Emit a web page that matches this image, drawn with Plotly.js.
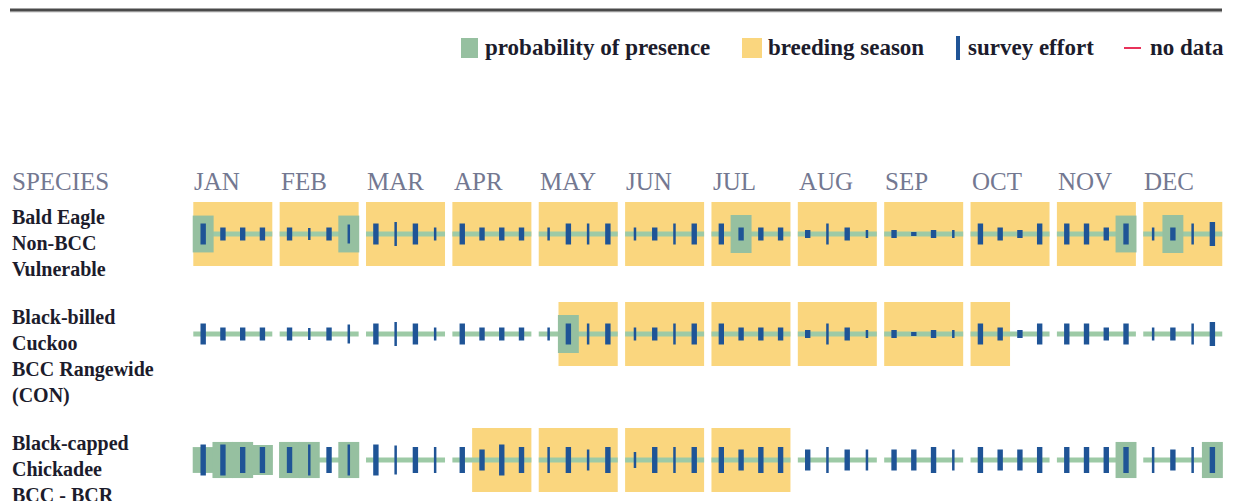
<!DOCTYPE html>
<html><head><meta charset="utf-8">
<script src="https://cdn.plot.ly/plotly-3.0.1.min.js"></script>
<style>html,body{margin:0;padding:0;background:#fff;overflow:hidden}#chart{width:1233px;height:501px}</style>
</head><body><div id="chart"></div>
<script>
// ---------------- DATA ----------------
const months = ['JAN','FEB','MAR','APR','MAY','JUN','JUL','AUG','SEP','OCT','NOV','DEC'];
const speciesHeader = 'SPECIES';
const speciesLabels = [
  ['Bald Eagle','Non-BCC','Vulnerable'],
  ['Black-billed','Cuckoo','BCC Rangewide','(CON)'],
  ['Black-capped','Chickadee','BCC - BCR']
];
const legendLabels = ['probability of presence','breeding season','survey effort','no data'];

// breeding season (1 = week in breeding season), 4 weeks per month
const breedingBaldEagle = [
  1,1,1,1, 1,1,1,1, 1,1,1,1, 1,1,1,1, 1,1,1,1, 1,1,1,1,
  1,1,1,1, 1,1,1,1, 1,1,1,1, 1,1,1,1, 1,1,1,1, 1,1,1,1];
const breedingCuckoo = [
  0,0,0,0, 0,0,0,0, 0,0,0,0, 0,0,0,0, 0,1,1,1, 1,1,1,1,
  1,1,1,1, 1,1,1,1, 1,1,1,1, 1,1,0,0, 0,0,0,0, 0,0,0,0];
const breedingChickadee = [
  0,0,0,0, 0,0,0,0, 0,0,0,0, 0,1,1,1, 1,1,1,1, 1,1,1,1,
  1,1,1,1, 0,0,0,0, 0,0,0,0, 0,0,0,0, 0,0,0,0, 0,0,0,0];

// probability of presence (0-10 scale)
const presenceBaldEagle = [
  9.7,0,0,0, 0,0,0,9.7, 0,0,0,0, 0,0,0,0, 0,0,0,0, 0,0,0,0,
  0,10,0,0, 0,0,0,0, 0,0,0,0, 0,0,0,0, 0,0,0,9.7, 0,10,0,0];
const presenceCuckoo = [
  0,0,0,0, 0,0,0,0, 0,0,0,0, 0,0,0,0, 0,10,0,0, 0,0,0,0,
  0,0,0,0, 0,0,0,0, 0,0,0,0, 0,0,0,0, 0,0,0,0, 0,0,0,0];
const presenceChickadee = [
  6.8,9.5,9.5,7.9, 9.5,9.5,0,9.5, 0,0,0,0, 0,0,0,0, 0,0,0,0, 0,0,0,0,
  0,0,0,0, 0,0,0,0, 0,0,0,0, 0,0,0,0, 0,0,0,9.5, 0,0,0,9.5];

// survey effort (relative bar length)
const effortBaldEagle = [
  21,13,13,13, 13,12,13,19, 21,24,21,13, 21,13,13,13, 13,21,21,21, 13,13,21,21,
  21,13,13,13, 8,21,13,8, 8,4,8,8, 21,13,8,21, 21,21,13,21, 13,13,21,24];
const effortCuckoo = [
  21,13,13,13, 13,12,13,19, 21,24,21,13, 21,13,13,13, 13,21,21,21, 13,13,21,21,
  21,13,13,13, 8,21,13,8, 8,4,8,8, 21,13,8,21, 21,21,13,21, 13,13,21,24];
const effortChickadee = [
  31,31,26,26, 26,31,26,31, 31,29,26,26, 26,21,31,26, 26,26,21,26, 16,26,26,26,
  26,21,26,26, 21,26,21,21, 21,21,26,21, 26,21,21,26, 26,26,26,26, 26,21,26,26];
// survey effort bar kind (1 = wide, 0 = narrow)
const effortWide = [
  1,1,1,1, 1,0,1,0, 1,0,1,0, 1,1,1,1, 0,1,0,1, 0,1,0,1,
  1,1,1,1, 1,0,1,0, 1,1,1,0, 1,1,1,1, 1,1,1,1, 0,1,0,1];

// ---------------- LAYOUT CONSTANTS ----------------
const W = 1233, H = 501;
const P = 86.36;               // px per month
const X0 = 193.3;              // px of JAN box left
const B = 79 / P;              // month box width in month units
const Q = B / 4;               // week width
const BOX_H = 64, LINE_H = 5, PROB_SCALE = 3.8;
const WIDE = 5.4 / P, NARROW = 2.5 / P;
const COL = {yellow:'#fad67e', green:'#96c0a0', line:'#9dcaa6', blue:'#1f5496', red:'#e8325a',
             month:'#737891', label:'#1c1c2c'};
const FONT = 'Liberation Serif, Times New Roman, serif';

const rows = [
  {lines: speciesLabels[0], breeding: breedingBaldEagle, presence: presenceBaldEagle, effort: effortBaldEagle},
  {lines: speciesLabels[1], breeding: breedingCuckoo, presence: presenceCuckoo, effort: effortCuckoo},
  {lines: speciesLabels[2], breeding: breedingChickadee, presence: presenceChickadee, effort: effortChickadee}
];
let rowY = 202;
rows.forEach(r => { r.top = rowY; r.center = rowY + BOX_H/2; rowY += r.lines.length*26 + 22; });

const weekX = i => Math.floor(i/4) + ((i%4) + 0.5) * Q;
// contiguous runs of flagged weeks inside each month -> [startWeek, endWeek]
function monthRuns(flags) {
  const out = [];
  for (let m = 0; m < 12; m++) {
    let s = -1;
    for (let w = 0; w <= 4; w++) {
      const on = w < 4 && flags[m*4 + w];
      if (on && s < 0) s = w;
      if (!on && s >= 0) { out.push([m*4 + s, m*4 + w - 1]); s = -1; }
    }
  }
  return out;
}

const br = {x:[],y:[],base:[],w:[]}, ln = {x:[],y:[],base:[],w:[]}, pr = {x:[],y:[],base:[]}, sv = {x:[],y:[],base:[],w:[]};
const allWeeks = new Array(48).fill(1);
rows.forEach(r => {
  monthRuns(r.breeding).forEach(([a, b]) => {
    br.x.push((weekX(a) + weekX(b)) / 2); br.w.push((b - a + 1) * Q); br.y.push(BOX_H); br.base.push(r.top);
  });
  monthRuns(allWeeks).forEach(([a, b]) => {
    ln.x.push((weekX(a) + weekX(b)) / 2); ln.w.push((b - a + 1) * Q); ln.y.push(LINE_H); ln.base.push(r.center - LINE_H/2);
  });
  for (let i = 0; i < 48; i++) {
    const x = weekX(i);
    if (r.presence[i] > 0) { const h = r.presence[i]*PROB_SCALE; pr.x.push(x); pr.y.push(h); pr.base.push(r.center - h/2); }
    const e = r.effort[i]; sv.x.push(x); sv.y.push(e); sv.base.push(r.center - e/2); sv.w.push(effortWide[i] ? WIDE : NARROW);
  }
});
const barT = (d, color, width) => ({type:'bar', x:d.x, y:d.y, base:d.base, width:width,
  marker:{color:color, line:{width:0}}, hoverinfo:'skip', showlegend:false});
const traces = [
  barT(br, COL.yellow, br.w),
  barT(ln, COL.line, ln.w),
  barT(pr, COL.green, Q*1.06),
  barT(sv, COL.blue, sv.w)
];

const px = v => v / W, py = v => 1 - v / H;
const annotations = [];
months.forEach((m, k) => annotations.push({xref:'x', yref:'y', x:k - 0.01, y:181, xanchor:'left', yanchor:'middle',
  text:m, showarrow:false, font:{family:FONT, size:25, color:COL.month}}));
annotations.push({xref:'paper', yref:'y', x:px(10), y:181, xanchor:'left', yanchor:'middle', text:speciesHeader,
  showarrow:false, font:{family:FONT, size:25, color:COL.month}});
rows.forEach(r => r.lines.forEach((t, j) => annotations.push({xref:'paper', yref:'y', x:px(10), y:r.top + 15 + j*26,
  xanchor:'left', yanchor:'middle', text:'<b>'+t+'</b>', showarrow:false, font:{family:FONT, size:20, color:COL.label}})));
const legX = [483, 766, 966, 1148];
legendLabels.forEach((t, k) => annotations.push({xref:'paper', yref:'paper', x:px(legX[k]), y:py(48), xanchor:'left', yanchor:'middle',
  text:'<b>'+t+'</b>', showarrow:false, font:{family:FONT, size:23, color:COL.label}}));

const shapes = [
  {type:'line', xref:'paper', yref:'paper', x0:px(10), x1:px(1222), y0:py(12), y1:py(12), line:{color:'#c8c8c8', width:1}},
  {type:'line', xref:'paper', yref:'paper', x0:px(10), x1:px(1222), y0:py(10), y1:py(10), line:{color:'#4a4a4a', width:3}},
  {type:'rect', xref:'paper', yref:'paper', x0:px(461), x1:px(478), y0:py(38), y1:py(58), fillcolor:COL.green, line:{width:0}},
  {type:'rect', xref:'paper', yref:'paper', x0:px(742), x1:px(762), y0:py(38), y1:py(58), fillcolor:COL.yellow, line:{width:0}},
  {type:'line', xref:'paper', yref:'paper', x0:px(958), x1:px(958), y0:py(36), y1:py(60), line:{color:COL.blue, width:4}},
  {type:'line', xref:'paper', yref:'paper', x0:px(1124), x1:px(1141), y0:py(48), y1:py(48), line:{color:COL.red, width:2}}
];

const layout = {
  width:W, height:H, margin:{l:0,r:0,t:0,b:0,pad:0},
  paper_bgcolor:'#fff', plot_bgcolor:'#fff', barmode:'overlay', showlegend:false,
  xaxis:{range:[-X0/P, (W - X0)/P], visible:false, fixedrange:true},
  yaxis:{range:[H, 0], visible:false, fixedrange:true},
  annotations:annotations, shapes:shapes
};
Plotly.newPlot('chart', traces, layout, {staticPlot:true, displayModeBar:false});
</script>
</body></html>
